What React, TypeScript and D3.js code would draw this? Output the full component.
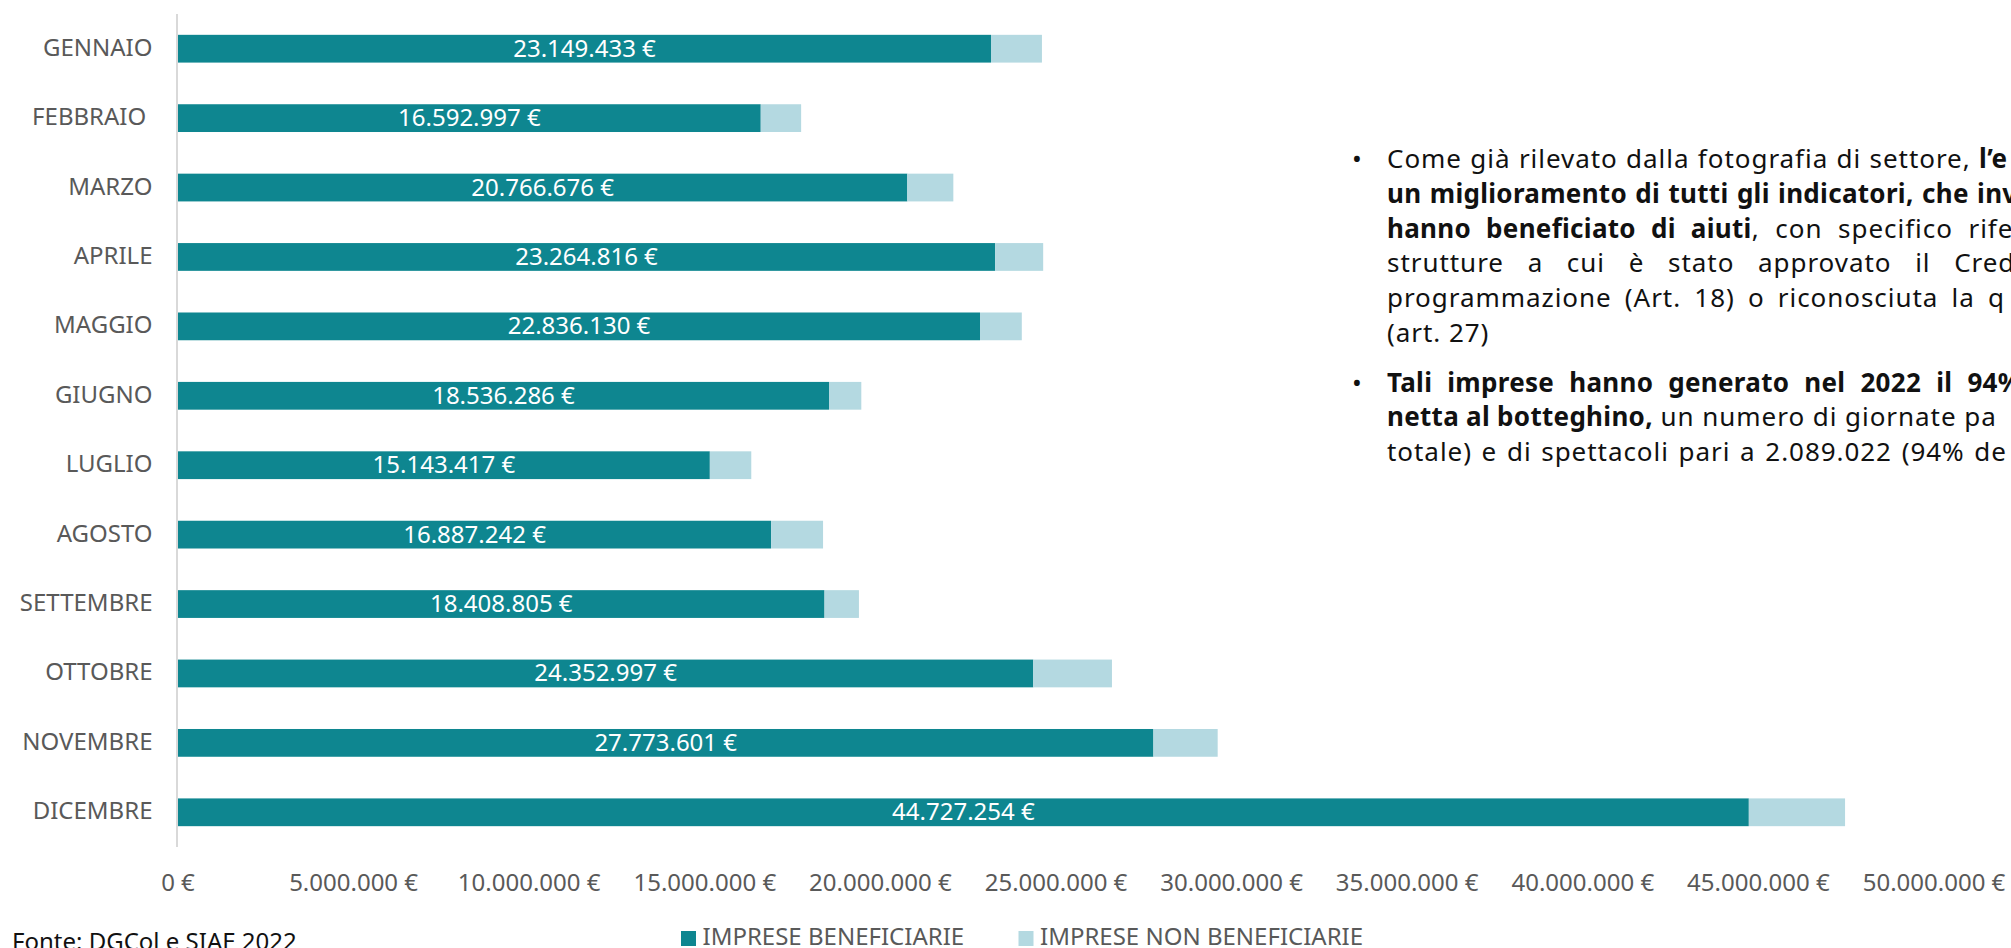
import React from "react";
import * as d3 from "d3";

const months = ["GENNAIO", "FEBBRAIO\u00a0", "MARZO", "APRILE", "MAGGIO", "GIUGNO", "LUGLIO", "AGOSTO", "SETTEMBRE", "OTTOBRE", "NOVEMBRE", "DICEMBRE"];
const beneficiarie = [23149433, 16592997, 20766676, 23264816, 22836130, 18536286, 15143417, 16887242, 18408805, 24352997, 27773601, 44727254];
const nonBeneficiarie = [1450000, 1150000, 1310000, 1370000, 1190000, 920000, 1180000, 1480000, 980000, 2240000, 1830000, 2740000];
const xTicks = [0, 5e6, 10e6, 15e6, 20e6, 25e6, 30e6, 35e6, 40e6, 45e6, 50e6];
const seriesNames = ["IMPRESE BENEFICIARIE", "IMPRESE NON BENEFICIARIE"];
const sourceNote = "Fonte: DGCol e SIAE 2022";

type Seg = { t: string; b?: boolean };
const bodyLines: { segs: Seg[]; bullet?: boolean; ws: number; gap?: number }[] = [
  { bullet: true, ws: 0.7, segs: [{ t: "Come già rilevato dalla fotografia di settore, " }, { t: "l’e", b: true }] },
  { ws: 1.3, segs: [{ t: "un miglioramento di tutti gli indicatori, che inv", b: true }] },
  { ws: 8, segs: [{ t: "hanno beneficiato di aiuti", b: true }, { t: ", con specifico rifer" }] },
  { ws: 16, segs: [{ t: "strutture a cui è stato approvato il Cred" }] },
  { ws: 5.5, segs: [{ t: "programmazione (Art. 18) o riconosciuta la q" }] },
  { ws: 0, segs: [{ t: "(art. 27)" }] },
  { bullet: true, ws: 8, gap: 14.7, segs: [{ t: "Tali imprese hanno generato nel 2022 il 94%", b: true }] },
  { ws: 0, segs: [{ t: "netta al botteghino,", b: true }, { t: " un numero di giornate pa" }] },
  { ws: 2, segs: [{ t: "totale) e di spettacoli pari a 2.089.022 (94% de" }] },
];

const W = 2011;
const H = 948;
const DARK = "#0E8690";
const LIGHT = "#B4D9E1";
const GRAY = "#595959";
const FONT = "'Noto Sans', sans-serif";

const locale = d3.formatLocale({ decimal: ",", thousands: ".", grouping: [3], currency: ["", " €"] });
const fmt = locale.format("$,.0f");

export default function App() {
  const x = d3.scaleLinear().domain([0, 50e6]).range([178, 1934]);
  const y = d3.scaleBand<string>().domain(months).range([14, 847]).paddingInner(0.6).paddingOuter(0.3);
  const bw = y.bandwidth();

  let lineY = 168;
  const textLines = bodyLines.map((l, i) => {
    if (i > 0) lineY += 34.8 + (l.gap || 0);
    return { ...l, yy: lineY };
  });

  return (
    <svg width={W} height={H} style={{ position: "absolute", left: 0, top: 0, background: "#fff" }} fontFamily={FONT}>
      <rect x={0} y={0} width={W} height={H} fill="#fff" />
      {months.map((m, i) => {
        const yy = y(m)!;
        const v1 = beneficiarie[i];
        const v2 = nonBeneficiarie[i];
        return (
          <g key={m}>
            <rect x={x(0)} y={yy} width={x(v1) - x(0)} height={bw} fill={DARK} />
            <rect x={x(v1)} y={yy} width={x(v1 + v2) - x(v1)} height={bw} fill={LIGHT} />
            <text x={(x(0) + x(v1)) / 2} y={yy + bw / 2 + 8} textAnchor="middle" fontSize={24} fill="#fff">
              {fmt(v1)}
            </text>
            <text x={152.5} y={yy + bw / 2 + 7} textAnchor="end" fontSize={24} fill={GRAY}>
              {m}
            </text>
          </g>
        );
      })}
      <line x1={177} x2={177} y1={14} y2={847} stroke="#d9d9d9" strokeWidth={2} />
      {xTicks.map((t) => (
        <text key={t} x={x(t)} y={891} textAnchor="middle" fontSize={24} fill={GRAY}>
          {fmt(t)}
        </text>
      ))}
      <rect x={681} y={931} width={15} height={15} fill={DARK} />
      <text x={702.5} y={945} fontSize={24} fill={GRAY}>{seriesNames[0]}</text>
      <rect x={1018.5} y={931} width={15} height={15} fill={LIGHT} />
      <text x={1040} y={945} fontSize={24} fill={GRAY}>{seriesNames[1]}</text>
      <text x={12} y={950} fontSize={24} fill="#111">{sourceNote}</text>
      {textLines.map((l, i) => (
        <g key={i}>
          {l.bullet && (
            <text x={1352} y={l.yy} fontSize={26} fill="#111">•</text>
          )}
          <text x={1387} y={l.yy} fontSize={26} fill="#111" style={{ wordSpacing: `${l.ws}px` }}>
            {l.segs.map((s, j) => (
              <tspan key={j} fontWeight={s.b ? 700 : 400} letterSpacing={s.b ? 0.3 : 0.95} xmlSpace="preserve">
                {s.t}
              </tspan>
            ))}
          </text>
        </g>
      ))}
    </svg>
  );
}
